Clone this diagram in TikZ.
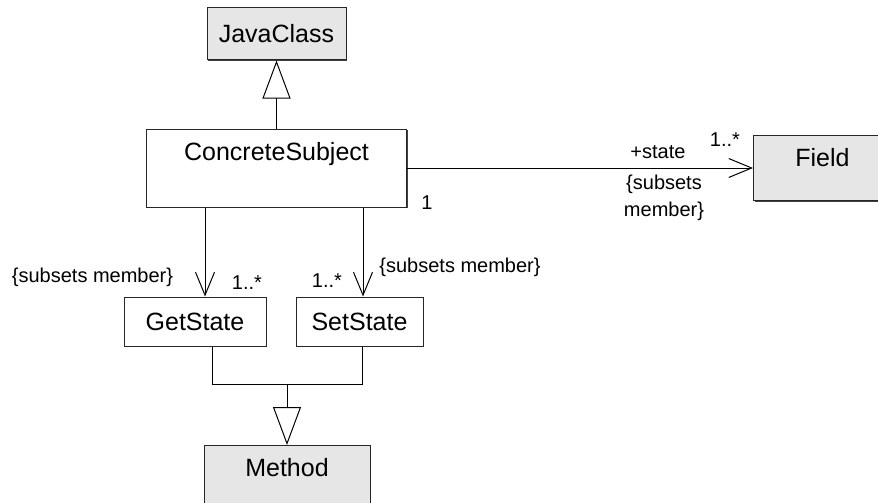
\documentclass[tikz,border=0pt]{standalone}
\usepackage{fontspec}
\setmainfont{Liberation Sans}
\usetikzlibrary{arrows.meta,positioning,shadows}
\definecolor{klassgrau}{RGB}{230,230,230}
\tikzset{
	%Define standard arrow tip
	>={Straight Barb[length=23pt,width=19pt]},
	%Define style for class boxes
	klasse/.style={
		rectangle,
		draw=black!85, line width=1pt,
		fill=white,
		drop shadow={shadow xshift=1.2pt,shadow yshift=-1.2pt,fill=black!75,opacity=1},
		inner xsep=0pt,
		font=\fontsize{25}{29}\selectfont,
		text centered},
	grau/.style={klasse, fill=klassgrau},
	% class box with its name at the top
	kopf/.style 2 args={inner ysep=0pt, text height=#1, text depth=#2},
	% Define arrow styles
	pil/.style={->, line width=1pt},
	erbe/.style={-{Triangle[open,length=38pt,width=28pt]}, line width=1pt},
	merk/.style={font=\fontsize{20}{27}\selectfont, inner sep=0pt}
}
\begin{document}
\begin{tikzpicture}[x=1pt, y=-1pt]
		\useasboundingbox (0,0) rectangle (878,503);
		%classes
		\node[grau, minimum width=139pt, minimum height=52pt] (javaclass) at (276.5,34) {JavaClass};
		\node[klasse, minimum width=260pt, kopf={31.5pt}{46.5pt}, below=68pt of javaclass] (subject) {ConcreteSubject};
		\node[grau, minimum width=138pt, kopf={31pt}{34pt}, right=346pt of subject] (field) {Field};
		\node[klasse, minimum width=142pt, minimum height=49pt] (getstate) at (195,321.5) {GetState};
		\node[klasse, minimum width=127pt, minimum height=49pt] (setstate) at (359.5,321.5) {SetState};
		\node[grau, minimum width=166pt, kopf={31pt}{40pt}, anchor=north] (method) at (287,445) {Method};
		% inheritance
		\draw[erbe] (subject) -- (javaclass);
		\coordinate (knick) at ([yshift=61pt]method.north);
		\coordinate (gout) at ([xshift=17pt]getstate.south);
		\coordinate (sout) at ([xshift=2.5pt]setstate.south);
		\draw[line width=1pt] (gout) -- (gout |- knick) -- (sout |- knick) -- (sout);
		\draw[erbe] (knick) -- (method.north);
		% associations
		\draw[pil] (subject.east) -- (field.west);
		\coordinate (gin) at ([xshift=10pt]getstate.north);
		\coordinate (sin) at ([xshift=3.5pt]setstate.north);
		\draw[pil] (gin |- subject.south) -- (gin);
		\draw[pil] (sin |- subject.south) -- (sin);
		% ends of the associations
		\node[merk] (eins) at (427,203) {1};
		\node[merk] (rolle) at (658,152) {+state};
		\node[merk] (multf) at (725,140) {1..*};
		\node[merk, align=center] (subf) at (664,198) {\{subsets\\member\}};
		\node[merk] (subg) at (92.5,277) {\{subsets member\}};
		\node[merk] (multg) at (247,283) {1..*};
		\node[merk] (mults) at (327,281) {1..*};
		\node[merk] (subs) at (460,267) {\{subsets member\}};
\end{tikzpicture}
\end{document}
